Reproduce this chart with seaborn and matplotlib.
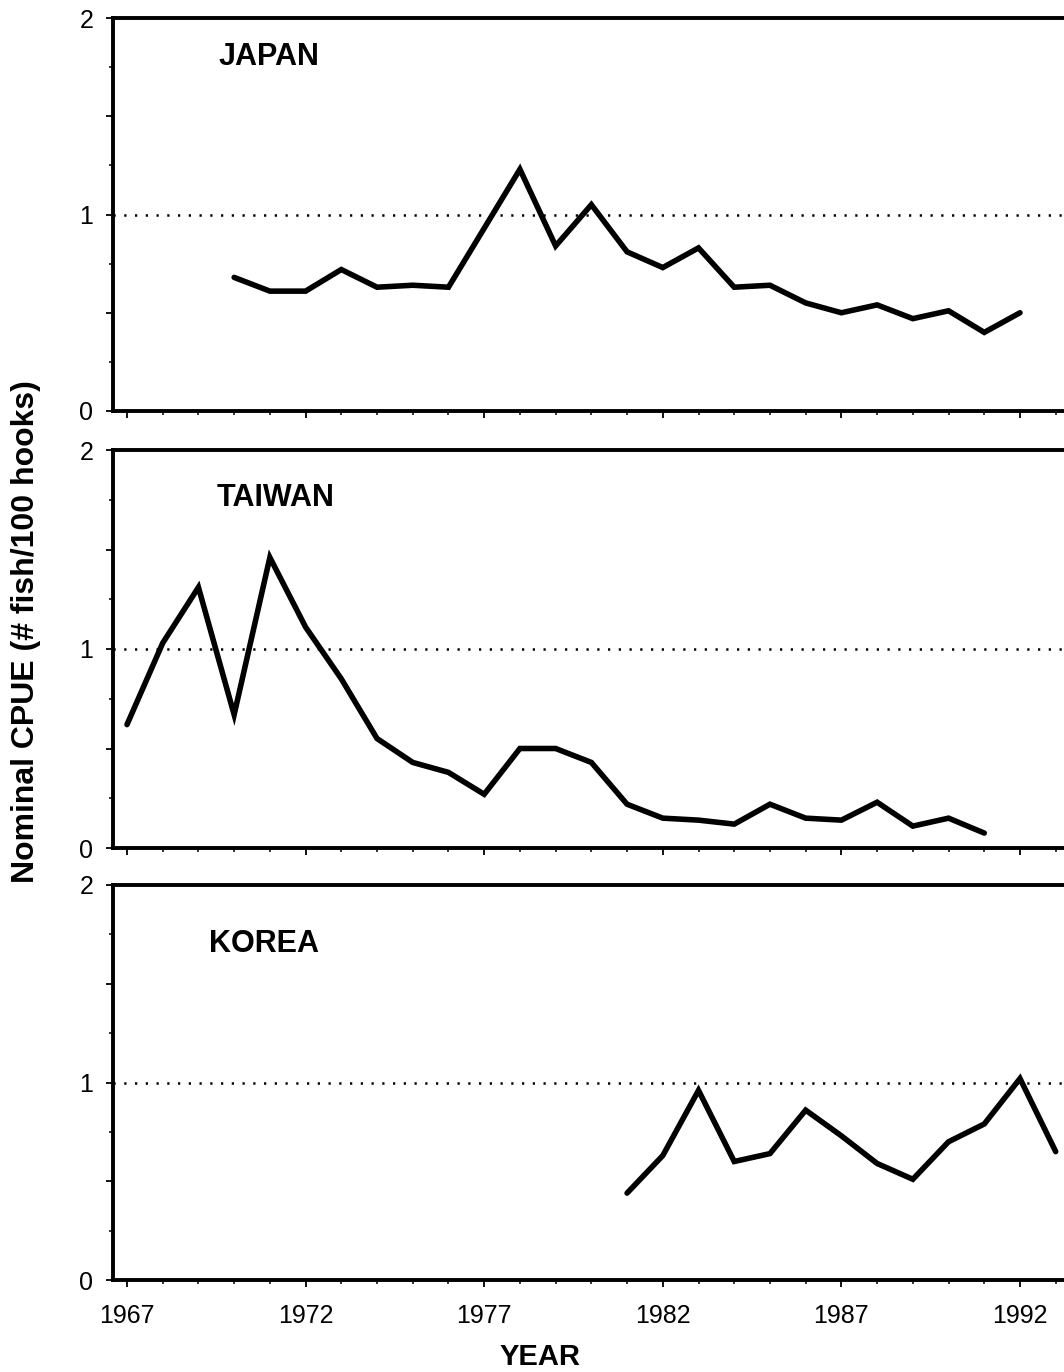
import numpy as np
import pandas as pd
import matplotlib
matplotlib.use("Agg")
import matplotlib.pyplot as plt
from matplotlib.ticker import MultipleLocator, FuncFormatter
import seaborn as sns

# 数据
japan_years = list(range(1970, 1993))
japan_cpue = [0.68, 0.61, 0.61, 0.72, 0.63, 0.64, 0.63, 0.93, 1.23, 0.84, 1.05, 0.81,
              0.73, 0.83, 0.63, 0.64, 0.55, 0.50, 0.54, 0.47, 0.51, 0.40, 0.50]

taiwan_years = list(range(1967, 1992))
taiwan_cpue = [0.62, 1.03, 1.31, 0.67, 1.46, 1.11, 0.85, 0.55, 0.43, 0.38, 0.27, 0.50,
               0.50, 0.43, 0.22, 0.15, 0.14, 0.12, 0.22, 0.15, 0.14, 0.23, 0.11, 0.15, 0.075]

korea_years = list(range(1981, 1994))
korea_cpue = [0.44, 0.63, 0.96, 0.60, 0.64, 0.86, 0.73, 0.59, 0.51, 0.70, 0.79, 1.02, 0.65]

panel_names = ["JAPAN", "TAIWAN", "KOREA"]
panel_label_pos = [(1969.55, 1.80), (1969.5, 1.76), (1969.3, 1.70)]
x_ticks = [1967, 1972, 1977, 1982, 1987, 1992]
ref_level = 1.0

sns.set_style("ticks")
plt.rcParams['font.family'] = ['Liberation Sans', 'DejaVu Sans']
plt.rcParams['text.color'] = 'black'
plt.rcParams['xtick.color'] = 'black'
plt.rcParams['ytick.color'] = 'black'
plt.rcParams['axes.labelcolor'] = 'black'

W, H = 1064, 1372
fig = plt.figure(figsize=(W / 100, H / 100), dpi=100)

# 各子图的像素位置 (上, 下)
boxes = [(18, 411), (450, 848), (885, 1280)]
left_px = 112.7
px_per_year = 35.72
xmin, xmax = 1966.6, 1994.0
width_px = (xmax - xmin) * px_per_year

series = [(japan_years, japan_cpue), (taiwan_years, taiwan_cpue), (korea_years, korea_cpue)]

axes = []
for i, ((top, bot), (yrs, vals)) in enumerate(zip(boxes, series)):
    ax = fig.add_axes([left_px / W, 1 - bot / H, width_px / W, (bot - top) / H])
    df = pd.DataFrame({"year": yrs, "cpue": vals})
    sns.lineplot(data=df, x="year", y="cpue", ax=ax, color="black", linewidth=4.0,
                 solid_joinstyle="miter")
    ax.axhline(ref_level, color="black", linewidth=1.8, linestyle=(0, (0.9, 3.4)))
    ax.set_xlim(xmin, xmax)
    ax.set_ylim(0, 2)

    ax.xaxis.set_major_locator(MultipleLocator(5))
    ax.xaxis.set_minor_locator(MultipleLocator(1))
    ax.set_xticks(x_ticks)
    ax.yaxis.set_major_locator(MultipleLocator(0.5))
    ax.yaxis.set_minor_locator(MultipleLocator(0.25))
    ax.yaxis.set_major_formatter(FuncFormatter(lambda v, p: f"{int(v)}" if v == int(v) else ""))
    ax.tick_params(which="major", length=5, width=1.3, direction="out", labelsize=18, pad=12)
    ax.tick_params(which="minor", length=3, width=1.1, direction="out")
    ax.tick_params(axis="y", which="major", pad=9)
    if i < 2:
        ax.tick_params(axis="x", labelbottom=False)

    for s in ["left", "top", "bottom", "right"]:
        ax.spines[s].set_linewidth(2.8)
        ax.spines[s].set_color("black")

    ax.set_xlabel("")
    ax.set_ylabel("")
    lx, ly = panel_label_pos[i]
    ax.text(lx, ly, panel_names[i], fontsize=22, fontweight="bold", va="center", ha="left")
    axes.append(ax)

fig.text(26 / W, 1 - 632 / H, "Nominal CPUE (# fish/100 hooks)", rotation=90,
         fontsize=23, fontweight="bold", ha="center", va="center")
fig.text(540 / W, 1 - 1357 / H, "YEAR", fontsize=21, fontweight="bold",
         ha="center", va="center")

fig.savefig("out.png", dpi=100)
